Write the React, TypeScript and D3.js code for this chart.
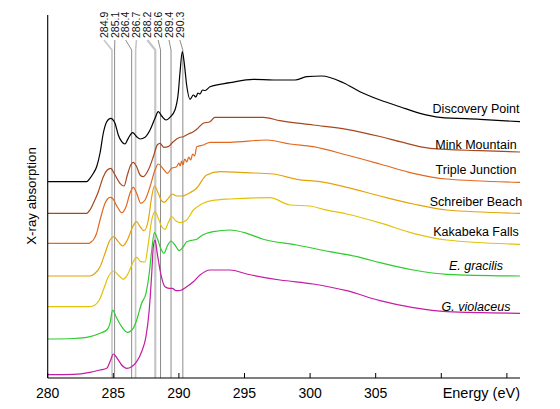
import React from 'react';
import * as d3 from 'd3';

const W = 560;
const H = 409;

// Reference peak energies (eV)
const peakEnergies = [284.9, 285.1, 286.4, 286.7, 288.2, 288.6, 289.4, 290.3];
const peakShade = ['light', 'dark', 'dark', 'light', 'light', 'dark', 'dark', 'dark'];

const xTicks = [280, 285, 290, 295, 300, 305, 310, 315];
const xTickLabels = ['280', '285', '290', '295', '300', '305', '', ''];

const seriesNames = ['Discovery Point', 'Mink Mountain', 'Triple Junction', 'Schreiber Beach', 'Kakabeka Falls', 'E. gracilis', 'G. violaceus'];
const seriesItalic = [false, false, false, false, false, true, true];
const seriesColors = ['#000000', '#a8471c', '#e2681e', '#e3a40a', '#e2c30a', '#2dcc2d', '#c41ca2'];
const labelGap = [6.5, 1.5, 6.5, 5, 6, 4.5, 1.5];

const discoveryE = [280, 282.97, 283.22, 283.48, 283.73, 283.99, 284.24, 284.5, 284.8, 285.13, 285.38, 285.64, 285.89, 286.14, 286.48, 286.78, 287.04, 287.42, 287.8, 288.18, 288.43, 288.69, 289.02, 289.32, 289.7, 289.95, 290.08, 290.26, 290.41, 290.59, 290.85, 291.1, 291.3, 291.45, 291.61, 291.8, 292.0, 292.37, 293.89, 295.67, 297.2, 298.85, 299.74, 300.88, 302.53, 303.8, 305.33, 306.85, 308.38, 309.9, 312.95, 316];
const discoveryA = [19.63, 19.63, 19.97, 20.47, 21.13, 22.5, 24.5, 25.63, 25.97, 25.47, 24.3, 23.63, 23.4, 23.97, 24.53, 24.13, 23.9, 24.07, 24.8, 25.97, 26.63, 26.2, 25.8, 26.07, 26.8, 28.47, 30.47, 32.63, 31.47, 29.3, 27.87, 28.3, 28.1, 28.5, 28.4, 28.8, 28.75, 29.13, 29.53, 29.87, 29.8, 29.8, 30.13, 30.2, 29.53, 28.63, 27.8, 27.13, 26.47, 26.07, 25.87, 25.63];

const minkE = [280, 282.97, 283.22, 283.48, 283.86, 284.24, 284.54, 284.8, 285.13, 285.51, 285.82, 286.07, 286.33, 286.52, 286.78, 287.04, 287.29, 287.67, 288.05, 288.35, 288.56, 288.86, 289.19, 289.57, 290.08, 290.34, 290.72, 291.1, 291.36, 291.61, 291.86, 292.37, 292.75, 296.43, 297.71, 300.24, 302.79, 305.33, 306.85, 309.14, 312.95, 316];
const minkA = [16.47, 16.47, 16.8, 17.47, 18.63, 20.13, 20.8, 20.97, 20.3, 19.47, 19.2, 20.3, 21.3, 21.57, 21.13, 20.3, 20.13, 20.8, 22.13, 23.3, 23.47, 23.07, 23.13, 23.63, 24.07, 24.13, 24.4, 24.63, 24.87, 25.2, 25.47, 25.63, 26.07, 26.07, 25.73, 25.3, 24.87, 24.15, 23.63, 22.97, 22.73, 22.6];

const tripleE = [280, 283.15, 283.3, 283.48, 283.73, 283.99, 284.37, 284.75, 284.95, 285.3, 285.64, 285.97, 286.27, 286.52, 286.83, 287.09, 287.42, 287.8, 288.18, 288.43, 288.77, 289.12, 289.45, 289.83, 290.0, 290.1, 290.2, 290.3, 290.45, 290.6, 290.75, 290.9, 291.05, 291.2, 291.36, 291.86, 292.37, 293.89, 296.69, 298.47, 300.24, 302.79, 305.33, 307.87, 310.41, 316];
const tripleA = [13.47, 13.47, 13.6, 13.8, 14.47, 15.8, 17.47, 18.07, 17.95, 17.13, 16.53, 17.13, 18.47, 19.07, 18.3, 17.47, 17.8, 19.13, 20.8, 21.4, 20.97, 20.47, 20.97, 21.13, 21.5, 21.2, 21.7, 21.3, 21.9, 21.6, 22.1, 21.8, 22.4, 22.2, 23.13, 23.3, 23.57, 23.57, 23.8, 23.4, 23.13, 22.3, 21.4, 20.47, 19.9, 19.57];

const schreiberE = [280, 283.22, 283.61, 283.99, 284.37, 284.75, 285.05, 285.38, 285.72, 286.07, 286.48, 286.78, 287.04, 287.34, 287.67, 287.93, 288.13, 288.43, 288.69, 288.89, 289.19, 289.5, 289.83, 290.21, 290.85, 291.33, 292.12, 293.13, 295.17, 297.2, 298.98, 300.75, 302.79, 305.33, 307.87, 310.41, 316];
const schreiberA = [10.2, 10.2, 10.47, 11.13, 12.47, 13.8, 14.13, 13.63, 13.2, 13.8, 15.13, 15.63, 15.13, 14.73, 15.8, 18.13, 19.2, 18.47, 17.7, 17.57, 17.97, 18.4, 18.2, 18.2, 18.53, 18.95, 20.3, 20.63, 20.53, 20.4, 19.87, 19.63, 19.07, 18.2, 17.4, 16.8, 16.47];

const kakabekaE = [280, 283.22, 283.61, 283.93, 284.24, 284.62, 285.05, 285.38, 285.76, 286.14, 286.52, 286.78, 287.09, 287.42, 287.67, 287.93, 288.18, 288.43, 288.69, 288.94, 289.19, 289.45, 289.78, 290.08, 290.59, 291.1, 291.61, 291.86, 292.5, 293.89, 296.94, 298.47, 299.99, 301.01, 302.79, 305.33, 307.87, 310.41, 316];
const kakabekaA = [7.13, 7.13, 7.3, 7.8, 8.8, 10.13, 10.7, 10.3, 9.87, 10.47, 11.63, 12.07, 11.63, 11.6, 13.47, 15.8, 16.63, 15.97, 15.13, 14.87, 15.53, 16.13, 15.7, 15.53, 15.8, 16.8, 17.3, 17.47, 17.73, 17.9, 18.03, 17.3, 17.2, 16.87, 16.4, 15.51, 14.47, 13.8, 13.37];

const gracilisE = [280, 282.0, 283.22, 283.99, 284.5, 284.75, 284.95, 285.21, 285.64, 286.07, 286.52, 286.78, 287.16, 287.49, 287.74, 287.93, 288.13, 288.35, 288.61, 288.86, 289.15, 289.4, 289.7, 290.03, 290.34, 290.59, 291.1, 291.36, 291.61, 292.12, 292.62, 293.89, 295.17, 296.43, 298.98, 301.52, 303.8, 305.33, 307.87, 310.41, 316];
const gracilisA = [3.9, 3.95, 4.13, 4.47, 4.8, 5.47, 6.8, 6.13, 5.13, 4.57, 4.97, 5.8, 7.47, 8.47, 10.47, 12.8, 14.53, 13.97, 12.97, 12.47, 13.3, 13.7, 13.3, 12.73, 13.13, 13.63, 13.8, 13.87, 14.13, 14.47, 14.63, 14.8, 14.47, 13.87, 13.3, 12.63, 12.07, 11.53, 10.8, 10.37, 10.2];

const violaceusE = [280, 282.0, 283.22, 283.99, 284.5, 284.8, 285.0, 285.3, 285.64, 286.02, 286.4, 286.78, 287.16, 287.49, 287.74, 287.93, 288.05, 288.18, 288.35, 288.61, 288.94, 289.25, 289.5, 289.78, 290.08, 290.59, 291.1, 291.61, 292.37, 293.89, 295.17, 297.71, 300.24, 302.79, 305.33, 307.87, 310.41, 316];
const violaceusA = [0.33, 0.37, 0.57, 0.8, 0.97, 1.8, 2.4, 1.97, 1.3, 0.97, 1.13, 1.63, 2.63, 4.13, 6.8, 10.47, 13.13, 13.8, 12.47, 10.47, 9.13, 8.97, 8.97, 8.73, 8.75, 9.13, 9.63, 10.3, 10.8, 10.8, 10.4, 9.8, 9.4, 8.73, 7.73, 7.03, 6.63, 6.47];

const seriesE = [discoveryE, minkE, tripleE, schreiberE, kakabekaE, gracilisE, violaceusE];
const seriesA = [discoveryA, minkA, tripleA, schreiberA, kakabekaA, gracilisA, violaceusA];

const FONT = '"Liberation Sans", Arial, Helvetica, sans-serif';

export default function App() {
  const x = d3.scaleLinear().domain([280, 316]).range([47.7, 520]);
  const y = d3.scaleLinear().domain([0, 36.3]).range([378, 15]);
  const axisY = y(0);

  const line = d3
    .line<[number, number]>()
    .x((d) => x(d[0]))
    .y((d) => y(d[1]))
    .curve(d3.curveMonotoneX);

  const labelPos = d3.scaleLinear().domain([0, peakEnergies.length - 1]).range([x(284.9) - 8, x(290.3) - 3]);

  const labelEnergy = x.invert(476);

  return (
    <svg width={W} height={H} style={{ position: 'absolute', left: 0, top: 0, background: '#fff' }} fontFamily={FONT}>
      <rect x={0} y={0} width={W} height={H} fill="#fff" />
      {/* reference peak lines */}
      {peakEnergies.map((e, i) => {
        const lx = x(e);
        const tx = labelPos(i);
        const light = peakShade[i] === 'light';
        return (
          <g key={'pk' + i}>
            <polyline
              points={`${tx},40 ${lx},50 ${lx},${axisY}`}
              fill="none"
              stroke={light ? '#c6c6c6' : '#8c8c8c'}
              strokeWidth={light ? (e === 288.2 ? 2.2 : 1.6) : 1}
            />
            <text
              transform={`translate(${tx},38) rotate(-90)`}
              textAnchor="start"
              dy="0.36em"
              fontSize={10.5}
              fill="#111"
            >
              {String(e)}
            </text>
          </g>
        );
      })}
      {/* spectra */}
      {seriesE.map((es, si) => {
        const pts: [number, number][] = es.map((e, k) => [e, seriesA[si][k]]);
        return (
          <path key={'s' + si} d={line(pts) || ''} fill="none" stroke={seriesColors[si]} strokeWidth={1.2} strokeLinejoin="round" />
        );
      })}
      {/* series labels */}
      {seriesNames.map((n, si) => {
        const v = d3.scaleLinear().domain(seriesE[si]).range(seriesA[si])(labelEnergy);
        return (
          <text
            key={'l' + si}
            x={476}
            y={y(v) - labelGap[si]}
            textAnchor="middle"
            fontSize={12.5}
            fontStyle={seriesItalic[si] ? 'italic' : 'normal'}
            fill="#000"
          >
            {n}
          </text>
        );
      })}
      {/* axes */}
      <line x1={x(280)} x2={x(280)} y1={15} y2={axisY} stroke="#000" strokeWidth={1.1} />
      <line x1={x(280)} x2={x(316)} y1={axisY} y2={axisY} stroke="#000" strokeWidth={1.1} />
      {xTicks.map((t, i) => (
        <g key={'t' + i}>
          <line x1={x(t)} x2={x(t)} y1={axisY} y2={axisY - 5} stroke="#000" strokeWidth={1} />
          {xTickLabels[i] && (
            <text x={x(t)} y={397.5} textAnchor="middle" fontSize={14} fill="#000">
              {xTickLabels[i]}
            </text>
          )}
        </g>
      ))}
      <text x={x(316)} y={397.5} textAnchor="end" fontSize={14.5} fill="#000">
        Energy (eV)
      </text>
      <text transform={`translate(36,196) rotate(-90)`} textAnchor="middle" fontSize={13.3} fill="#000">
        X-ray absorption
      </text>
    </svg>
  );
}
